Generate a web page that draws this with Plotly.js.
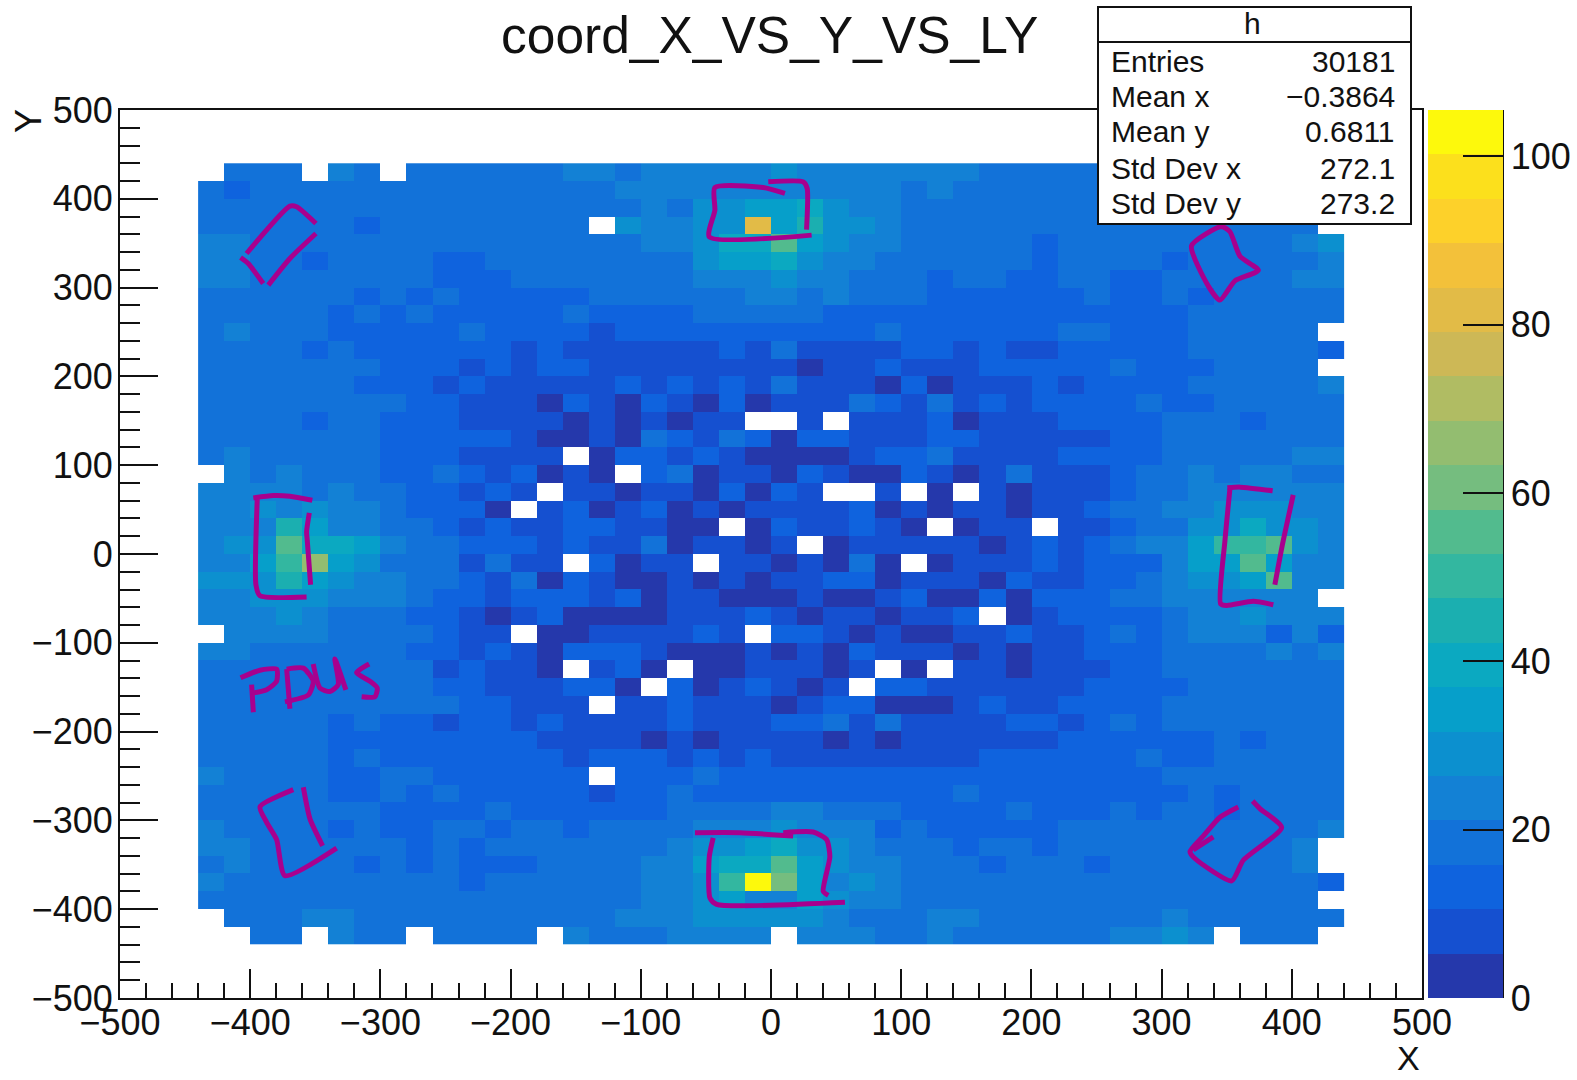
<!DOCTYPE html>
<html>
<head>
<meta charset="utf-8">
<script src="https://cdn.plot.ly/plotly-3.0.1.min.js"></script>
<style>html,body{margin:0;padding:0;background:#fff}#c{width:1577px;height:1080px}</style>
</head>
<body>
<div id="c"></div>
<script>
const _ = null;
// Bin counts, top row (y = 430) to bottom row (y = -430), columns x = -430 ... 430
const row00=[_,18,18,18,_,24,18,_,18,18,18,18,18,18,24,24,18,24,24,24,24,24,29,24,24,24,24,24,24,24,18,18,18,18,18,18,18,18,18,18,18,18,18,_];
const row01=[18,13,18,18,18,18,18,18,18,18,18,18,18,18,18,18,24,24,24,24,24,24,24,24,24,24,24,18,24,18,18,18,18,18,18,18,18,18,18,18,18,18,18,_];
const row02=[18,18,18,18,18,18,18,18,18,18,18,18,18,18,18,18,18,24,18,29,29,34,34,40,29,24,24,18,18,18,18,18,18,18,18,18,18,18,18,18,18,18,18,_];
const row03=[18,18,18,18,18,18,13,18,18,18,18,18,18,18,18,_,29,24,24,29,29,82,34,45,29,29,24,18,18,18,18,18,18,18,18,18,18,18,18,18,18,18,18,_];
const row04=[24,24,18,18,18,18,18,18,18,18,18,18,18,18,18,18,18,24,24,29,40,40,55,34,29,24,24,18,18,18,18,18,13,18,18,18,18,18,18,18,18,18,24,29];
const row05=[24,24,18,18,13,18,18,18,18,13,13,18,18,18,18,18,18,18,18,29,34,34,40,29,24,24,18,18,18,18,18,18,13,18,18,18,18,13,18,18,18,18,18,24];
const row06=[24,24,18,18,18,18,18,18,18,13,13,13,18,18,18,18,18,18,18,24,24,24,29,24,24,18,18,18,13,18,18,13,13,18,18,13,13,18,18,18,18,18,24,24];
const row07=[18,18,18,18,18,18,13,18,13,18,13,13,13,13,13,18,18,18,18,18,18,24,24,18,24,18,18,18,13,13,13,13,13,13,18,13,13,18,13,18,18,18,18,18];
const row08=[18,18,18,18,18,13,18,13,18,13,13,13,13,13,18,13,13,13,13,18,18,18,18,18,13,13,13,13,13,13,13,13,13,13,13,13,13,13,18,18,18,18,18,18];
const row09=[18,24,18,18,18,13,13,13,13,13,18,13,13,13,13,8,13,13,13,13,13,13,13,13,13,13,18,13,13,13,13,13,13,18,18,13,13,13,18,18,18,18,18,_];
const row10=[18,18,18,18,13,18,13,13,13,13,13,13,8,13,8,8,8,8,8,8,13,8,18,8,8,8,8,13,13,8,13,8,8,13,13,13,13,13,18,18,18,18,18,13];
const row11=[18,18,18,18,18,18,18,13,13,13,8,13,8,13,13,8,8,8,8,8,8,8,8,3,8,8,13,8,8,8,13,13,13,13,13,18,13,13,13,18,18,18,18,_];
const row12=[18,18,18,18,18,18,13,13,13,8,13,8,8,8,8,8,13,8,13,8,13,8,18,8,8,8,3,13,3,8,8,8,13,8,13,13,13,13,18,18,18,18,18,24];
const row13=[18,18,18,18,18,18,18,18,13,13,8,8,8,3,13,8,3,13,8,3,13,3,8,8,8,18,13,8,18,8,13,8,13,13,13,13,18,13,13,18,18,18,18,18];
const row14=[18,18,18,18,13,18,18,13,13,13,8,8,8,8,3,8,3,8,3,8,8,_,_,8,_,8,8,8,13,3,8,8,8,13,13,13,13,18,18,18,13,18,18,18];
const row15=[18,18,18,18,18,18,18,13,13,13,13,13,8,3,3,8,3,18,13,8,18,13,3,13,13,8,8,8,13,13,8,8,8,8,8,13,13,18,18,18,18,18,18,18];
const row16=[18,24,18,18,18,18,18,13,13,13,8,8,8,8,_,3,13,13,8,13,8,3,3,3,3,8,13,13,18,8,8,8,8,13,13,13,13,18,18,18,18,18,24,24];
const row17=[_,24,18,24,18,18,18,13,13,18,13,8,13,3,8,3,_,13,18,3,8,8,3,13,8,3,3,13,8,3,8,18,8,8,8,13,18,18,24,18,24,24,18,18];
const row18=[24,24,24,24,18,24,18,18,13,13,8,13,8,_,8,8,3,8,8,3,13,3,13,8,_,_,8,_,3,_,8,3,8,8,8,13,18,18,24,24,24,24,24,24];
const row19=[24,24,29,24,29,24,24,18,13,13,13,3,_,8,13,3,8,13,3,8,3,8,8,8,8,13,3,8,3,8,8,3,8,8,13,18,18,24,24,29,29,29,24,24];
const row20=[24,24,24,45,34,24,24,18,18,13,8,13,8,8,13,13,8,8,3,3,_,3,13,8,8,13,8,3,_,3,8,8,_,8,8,13,18,18,29,29,40,29,29,24];
const row21=[24,29,29,55,40,40,34,24,18,18,13,13,13,8,13,8,8,18,3,8,8,3,8,_,3,8,8,8,8,8,3,8,13,8,13,18,24,24,34,50,50,55,29,24];
const row22=[24,24,34,50,66,34,29,18,18,18,8,18,8,8,_,13,3,8,8,_,8,8,3,8,3,18,3,_,3,8,8,8,13,8,13,13,13,24,34,34,55,34,24,24];
const row23=[29,29,29,45,34,29,24,24,18,18,13,8,18,3,13,8,3,3,8,3,8,3,8,8,13,13,3,8,8,8,3,13,8,8,13,13,18,24,29,29,34,55,24,24];
const row24=[24,24,29,29,29,24,24,24,18,13,13,8,13,13,13,8,13,3,8,8,3,3,3,8,3,3,8,13,3,3,13,3,13,13,13,18,18,24,24,24,24,24,24,_];
const row25=[24,24,24,29,24,18,18,18,13,13,8,3,8,13,3,3,3,3,8,8,8,13,8,3,8,8,3,8,8,13,_,3,8,13,13,13,13,18,24,24,29,24,24,24];
const row26=[_,24,24,24,24,18,18,18,18,13,8,8,_,3,3,8,8,8,8,13,8,_,13,13,8,3,8,3,3,8,8,13,8,8,13,18,13,18,24,24,24,13,24,13];
const row27=[24,24,18,18,18,18,18,18,13,13,8,13,8,3,13,13,13,8,3,3,3,8,3,8,3,13,8,8,8,3,8,3,8,8,13,13,13,18,18,18,18,24,18,24];
const row28=[18,18,18,18,18,18,18,18,18,8,13,8,8,3,_,8,13,3,_,3,3,8,8,8,3,8,_,3,_,8,8,3,8,8,8,13,13,18,18,18,18,18,18,18];
const row29=[18,18,18,18,18,18,18,18,18,13,13,8,8,8,13,13,3,_,13,3,8,13,8,3,8,_,13,13,8,8,8,8,8,8,13,13,13,13,18,18,18,18,18,18];
const row30=[18,18,18,18,18,18,18,18,18,18,13,13,8,8,8,_,8,8,13,8,8,8,3,8,13,13,3,3,3,8,13,8,8,13,13,13,13,18,18,18,18,18,18,18];
const row31=[18,18,18,18,18,13,18,13,13,8,13,13,8,13,8,8,8,8,13,8,8,8,13,13,18,8,18,8,8,8,8,13,13,8,13,18,13,18,18,18,18,18,18,18];
const row32=[18,18,18,18,18,13,13,13,13,13,13,13,13,8,8,8,8,3,8,3,8,8,8,8,3,8,3,8,8,8,8,8,8,13,13,13,13,13,13,18,13,18,18,18];
const row33=[18,18,18,18,18,13,18,13,13,13,13,13,13,13,8,13,13,13,8,13,8,13,8,8,8,8,8,8,8,8,13,13,13,13,13,13,18,13,13,18,18,18,18,18];
const row34=[24,18,18,18,18,13,13,18,18,13,13,13,13,13,13,_,13,13,13,18,13,13,13,13,13,13,13,13,13,13,13,13,13,13,13,13,13,18,18,18,18,18,18,18];
const row35=[18,18,18,18,18,13,13,18,13,18,13,13,13,13,13,8,13,13,18,13,13,13,13,13,13,13,13,13,13,18,13,13,13,13,13,13,13,13,18,13,18,18,18,18];
const row36=[18,18,18,18,18,18,18,13,13,13,13,18,13,13,13,13,13,13,18,18,18,18,24,24,18,18,18,13,13,13,13,18,13,13,13,18,13,18,18,13,18,18,18,18];
const row37=[24,18,18,18,18,13,18,13,13,18,18,13,18,18,13,18,18,18,18,24,24,24,29,24,24,24,13,18,13,13,13,13,13,18,18,18,18,18,18,18,18,18,18,24];
const row38=[24,24,18,18,18,18,18,18,13,18,13,18,18,18,18,18,18,18,24,29,29,34,40,29,29,24,18,18,18,13,18,18,13,18,18,18,18,18,18,18,18,18,24,_];
const row39=[18,24,18,18,18,18,13,18,13,18,13,13,13,18,18,18,18,24,24,34,40,40,55,34,29,24,24,18,18,18,13,18,18,18,13,18,18,18,18,18,18,18,24,_];
const row40=[24,18,18,18,18,18,18,18,18,18,13,18,18,18,18,18,18,24,24,29,50,105,61,34,24,29,24,18,18,18,18,18,18,18,18,18,18,18,18,18,18,18,18,13];
const row41=[18,18,18,18,18,18,18,18,18,18,18,18,18,18,18,18,18,24,24,29,34,24,24,34,29,24,24,18,18,18,18,18,18,18,18,18,18,18,18,18,18,18,18,_];
const row42=[_,18,18,18,24,24,18,18,18,18,18,18,18,18,18,18,24,24,24,29,29,29,29,29,24,18,18,18,24,24,18,18,18,18,18,18,18,24,18,18,18,18,18,18];
const row43=[_,_,18,18,_,24,18,18,_,18,18,18,18,_,24,18,18,18,24,24,24,24,_,24,24,24,18,18,24,18,18,18,18,18,18,24,24,29,24,_,18,18,18,_];
const rowsTopDown=[row00,row01,row02,row03,row04,row05,row06,row07,row08,row09,row10,row11,row12,row13,row14,row15,row16,row17,row18,row19,row20,row21,row22,row23,row24,row25,row26,row27,row28,row29,row30,row31,row32,row33,row34,row35,row36,row37,row38,row39,row40,row41,row42,row43];

const paletteBands=['#2538ab','#1550d0','#0f63de','#1272d9','#1381d5','#0c90cf','#069fca','#0ba9c1','#1bafb0','#33b7a0','#52bb8e','#75bd7f','#93bd70','#b0bc63','#cdb856','#e2bb47','#f3c13a','#fdd12a','#fce01c','#fdf90c'];
const zMax=105.5;
const colorTicks=[0,20,40,60,80,100];

const statLabels=['Entries','Mean x','Mean y','Std Dev x','Std Dev y'];
const statValues=['30181','\u22120.3864','0.6811','272.1','273.2'];

// Hand-drawn magenta pen strokes, in data units
const penTopLeft=[[[-402.8,-369.5,-364.4,-349.5],[338.4,391.7,391,372.2]],[[-349.5,-369.5,-386.1],[360.9,332.8,302.8]],[[-407.4,-401.5,-390],[333.9,327.1,304.6]]];
const penLeft=[[[-397.6,-382.3,-369.5,-352.3],[63.2,65.9,65.1,60.6]],[[-394.6,-395.6,-392.5,-356.7],[61.8,-34.7,-47.1,-48.3]],[[-354.6,-356.7,-356.2,-353.6],[46.4,25,15.7,-34.7]]];
const penWord=[[[-397.6,-398.9],[-178.2,-147.1]],[[-407.4,-392.5,-379.7,-379.7,-387.4,-398.9],[-139.4,-130.9,-129.7,-143.3,-152.9,-156.8]],[[-372,-369.5],[-129.7,-174.3]],[[-372,-359.2,-351.6,-355.4,-373.3],[-129.7,-128.5,-143.3,-158.8,-166.5]],[[-351.6,-346.4,-338.8,-332.4,-335,-326.5],[-123.9,-151,-154.9,-147.1,-118.1,-153]],[[-308.6,-318.3,-308,-302.4,-304.2,-314.4],[-123.9,-133.6,-143.3,-151,-160.7,-160.7]]];
const penBottomLeft=[[[-366.9,-392.5,-387.4,-379.7,-373.3,-333.6],[-265.4,-284.8,-302.2,-321.6,-362.3,-331.3]],[[-359.2,-354.1,-344.4],[-262.7,-298.3,-328.6]]];
const penTop=[[[10.7,-6,-43.1,-43.1,-47.4,31.2],[406,412.7,412.7,387.2,357.2,359.1]],[[-2.1,24.8,27.8,27.3],[419.1,419.1,411.6,365.4]]];
const penTopRight=[[[323,346,352.5,360.2,374.3,356.3,344.8,335.9,323],[347.1,368.9,362.9,335.3,319.5,307.6,285.9,301.7,347.1]]];
const penRight=[[[350.5,360.2,385.3],[74.5,75.3,71.3]],[[352.5,348.7,345.3,349.9,370.4,385.8],[73.7,15.7,-56,-58,-53.3,-57.2]],[[401.1,393,387],[66.6,12,-34.7]]];
const penBottomRight=[[[358.9,344.8,332,321.8,325.6,353.8,362.7,392.2,375.5,369.9],[-284.8,-296.4,-317.7,-335.2,-342.9,-368.1,-344.9,-308,-286.7,-278.2]],[[339.7,324.3],[-318.5,-333.2]]];
const penBottom=[[[-58.4,-23.9,17],[-313.8,-313.8,-317.7]],[[9.4,32.4,42.7,45.2,40.1,44],[-313.8,-313.1,-321.6,-341,-379.8,-384.4]],[[-44.4,-47.4,-46.9,-41.8,56.8],[-319.7,-341,-387.5,-394.5,-392.2]]];
const penStrokes=[...penTopLeft,...penLeft,...penWord,...penBottomLeft,...penTop,...penTopRight,...penRight,...penBottomRight,...penBottom];

const W=1577,H=1080,L=120,R=1422,T=110,B=998;
const px=v=>(v-L)/(R-L), py=v=>(B-v)/(B-T);
const ink='#111111', font='"Liberation Sans", Arial, sans-serif';

const colorscale=[];
paletteBands.forEach((c,k)=>{colorscale.push([k/paletteBands.length,c]);colorscale.push([(k+1)/paletteBands.length,c]);});

const heat={type:'heatmap',z:rowsTopDown.slice().reverse(),x0:-430,dx:20,y0:-430,dy:20,zmin:0,zmax:zMax,zsmooth:false,
  colorscale,hoverongaps:false,xgap:0,ygap:0,
  colorbar:{x:px(1428),xanchor:'left',xpad:0,y:0,yanchor:'bottom',ypad:0,len:1,lenmode:'fraction',thickness:75,thicknessmode:'pixels',
    outlinewidth:0,borderwidth:0,tickmode:'array',tickvals:colorTicks,ticks:'inside',ticklen:40,tickwidth:2,tickcolor:ink,
    tickfont:{family:font,size:36,color:ink}}};
const pen=penStrokes.map(s=>({type:'scatter',mode:'lines',x:s[0],y:s[1],line:{color:'#a8008e',width:5,shape:'spline',smoothing:0.6},hoverinfo:'skip',showlegend:false}));

const axisBase={range:[-500,500],dtick:100,tick0:0,ticks:'inside',tickwidth:2,tickcolor:ink,showline:true,linecolor:ink,linewidth:2,mirror:true,
  showgrid:false,zeroline:false,tickfont:{family:font,size:36,color:ink}};

const annotations=[
 {text:'coord_X_VS_Y_VS_LY',xref:'paper',yref:'paper',x:px(769),y:py(35),xanchor:'center',yanchor:'middle',showarrow:false,font:{family:font,size:51.5,color:ink}},
 {text:'X',xref:'paper',yref:'paper',x:px(1408),y:py(1058),xanchor:'center',yanchor:'middle',showarrow:false,font:{family:font,size:34,color:ink}},
 {text:'Y',xref:'paper',yref:'paper',x:px(28),y:py(121),xanchor:'center',yanchor:'middle',textangle:-90,showarrow:false,font:{family:font,size:36,color:ink}},
 {text:'h',xref:'paper',yref:'paper',x:px(1252),y:py(24),xanchor:'center',yanchor:'middle',showarrow:false,font:{family:font,size:30,color:ink}}
];
const statY=[61,96,131,168,203];
statLabels.forEach((t,i)=>{
 annotations.push({text:t,xref:'paper',yref:'paper',x:px(1109),y:py(statY[i]),xanchor:'left',yanchor:'middle',showarrow:false,font:{family:font,size:30,color:ink}});
 annotations.push({text:statValues[i],xref:'paper',yref:'paper',x:px(1397),y:py(statY[i]),xanchor:'right',yanchor:'middle',showarrow:false,font:{family:font,size:30,color:ink}});
});

const shapes=[
 {type:'rect',xref:'paper',yref:'paper',x0:px(1098),x1:px(1411),y0:py(224),y1:py(7),fillcolor:'#ffffff',line:{color:ink,width:2},layer:'above'},
 {type:'line',xref:'paper',yref:'paper',x0:px(1098),x1:px(1411),y0:py(42),y1:py(42),line:{color:ink,width:2},layer:'above'},
 {type:'line',xref:'paper',yref:'paper',x0:px(1503),x1:px(1503),y0:py(110),y1:py(998),line:{color:ink,width:2},layer:'above'}
];

Plotly.newPlot('c',[heat,...pen],{
 width:W,height:H,margin:{l:L,r:W-R,t:T,b:H-B,pad:0,autoexpand:false},paper_bgcolor:'#fff',plot_bgcolor:'#fff',showlegend:false,
 xaxis:{...axisBase,ticklen:29,ticklabelstandoff:-8,minor:{dtick:20,ticks:'inside',ticklen:15,tickwidth:2,tickcolor:ink,showgrid:false}},
 yaxis:{...axisBase,ticklen:38,ticklabelstandoff:-2,minor:{dtick:20,ticks:'inside',ticklen:20,tickwidth:2,tickcolor:ink,showgrid:false}},
 annotations,shapes
},{displayModeBar:false,staticPlot:true});
</script>
</body>
</html>
